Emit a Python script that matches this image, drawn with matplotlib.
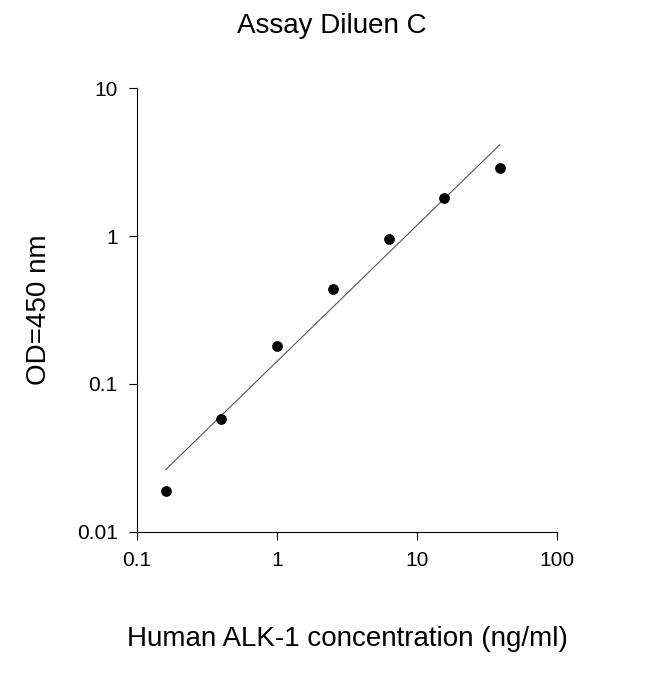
import numpy as np
import matplotlib
matplotlib.use("Agg")
import matplotlib.pyplot as plt

conc = [0.16, 0.4, 1.0, 2.5, 6.25, 15.6, 39.0]
od = [0.019, 0.058, 0.18, 0.44, 0.95, 1.8, 2.9]
xticks = [0.1, 1, 10, 100]
xticklabels = ["0.1", "1", "10", "100"]
yticks = [0.01, 0.1, 1, 10]
yticklabels = ["0.01", "0.1", "1", "10"]

plt.rcParams['font.family'] = ['Liberation Sans', 'DejaVu Sans']
fig = plt.figure(figsize=(6.5, 6.74), dpi=100)
ax = fig.add_axes([0.211, 0.211, 0.646, 0.658])

lx = np.log10(conc); ly = np.log10(od)
b, a = np.polyfit(lx, ly, 1)
xl = np.array([conc[0], conc[-1]])
ax.plot(xl, 10 ** (a + b * np.log10(xl)), color='#555555', lw=0.8)
ax.scatter(conc, od, s=45, color='black', zorder=3)

ax.set_xscale('log'); ax.set_yscale('log')
ax.set_xlim(0.1, 100); ax.set_ylim(0.01, 10)
ax.set_xticks(xticks); ax.set_xticklabels(xticklabels)
ax.set_yticks(yticks); ax.set_yticklabels(yticklabels)
ax.minorticks_off()
ax.tick_params(labelsize=15, direction='out', length=6, pad=8)
for s in ['top', 'right']:
    ax.spines[s].set_visible(False)
ax.set_xlabel("Human ALK-1 concentration (ng/ml)", fontsize=20, labelpad=40)
ax.set_ylabel("OD=450 nm", fontsize=20, labelpad=18)
fig.text(0.51, 0.962, "Assay Diluen C", ha='center', va='center', fontsize=20)
fig.savefig("out.png", dpi=100)
